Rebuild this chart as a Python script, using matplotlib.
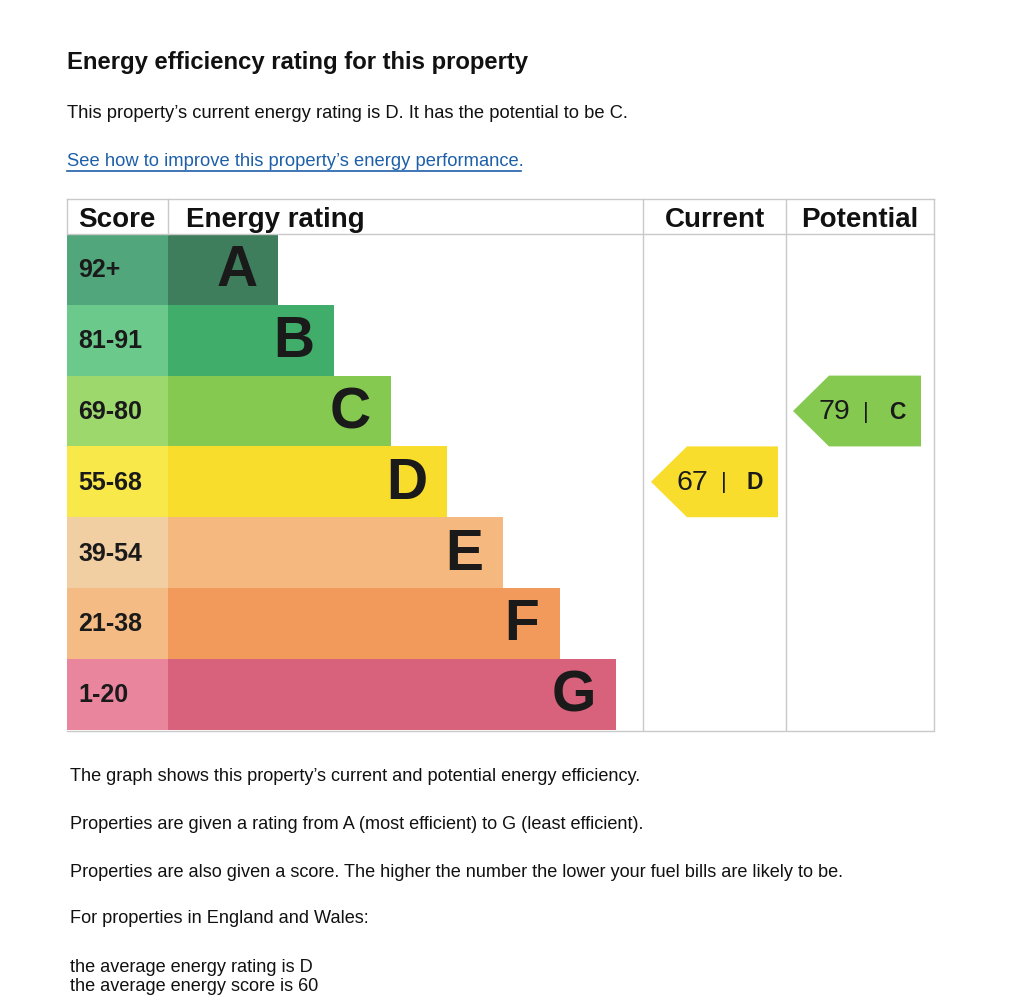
import matplotlib.pyplot as plt
from matplotlib.patches import Polygon

# EPC bands, best to worst
bands = ['A', 'B', 'C', 'D', 'E', 'F', 'G']
score_ranges = ['92+', '81-91', '69-80', '55-68', '39-54', '21-38', '1-20']
band_min = [92, 81, 69, 55, 39, 21, 1]
score_colors = ['#52a67c', '#6cc98c', '#9dd86c', '#f9e84a', '#f2cfa2', '#f4bc84', '#e9869e']
bar_colors = ['#3f7e5d', '#40ad6a', '#86c951', '#f8dd2c', '#f5b97f', '#f19a5c', '#d8617b']

current_score = 67
potential_score = 79

title = 'Energy efficiency rating for this property'
intro = "This property\u2019s current energy rating is D. It has the potential to be C."
link = "See how to improve this property\u2019s energy performance."
notes = [
    "The graph shows this property\u2019s current and potential energy efficiency.",
    "Properties are given a rating from A (most efficient) to G (least efficient).",
    "Properties are also given a score. The higher the number the lower your fuel bills are likely to be.",
    "For properties in England and Wales:",
]
averages = ["the average energy rating is D", "the average energy score is 60"]

plt.rcParams['font.family'] = ['Liberation Sans', 'DejaVu Sans']

fig = plt.figure(figsize=(10.24, 9.97), dpi=100)
ax = fig.add_axes([0, 0, 1, 1])
ax.set_xlim(0, 1024)
ax.set_ylim(997, 0)
ax.axis('off')

# table layout in pixels
left, score_w = 67, 101
top, head_h, row_h = 199, 35, 70.8
col_cur, col_pot, right = 643, 786, 934
bar_step = 56.3
first_bar = 110
grid = '#c9c9c9'

rows_top = top + head_h
centers = [rows_top + row_h * (i + 0.5) for i in range(len(bands))]
bottom = rows_top + row_h * len(bands)

# score cells and rating bars
ax.barh(centers, score_w, height=row_h, left=left, color=score_colors, edgecolor='none')
widths = [first_bar + bar_step * i for i in range(len(bands))]
ax.barh(centers, widths, height=row_h, left=left + score_w, color=bar_colors, edgecolor='none')

for i, b in enumerate(bands):
    ax.text(left + 11, centers[i] + 1, score_ranges[i], fontsize=18, fontweight='bold',
            ha='left', va='center', color='#1a1a1a')
    ax.text(left + score_w + widths[i] - 20, centers[i] + 2, b, fontsize=41, fontweight='bold',
            ha='right', va='center', color='#1a1a1a')

# grid lines
for x in [left, left + score_w]:
    ax.plot([x, x], [top, rows_top], color=grid, lw=1)
for x in [col_cur, col_pot, right]:
    ax.plot([x, x], [top, bottom], color=grid, lw=1)
ax.plot([left, right], [top, top], color=grid, lw=1)
ax.plot([left, right], [rows_top, rows_top], color=grid, lw=1)
ax.plot([left, right], [bottom + 1, bottom + 1], color=grid, lw=1)

head_size = 20
head_y = top + 21
ax.text(left + 11, head_y, 'Score', fontsize=head_size, fontweight='bold', va='center', color='#111')
ax.text(left + score_w + 18, head_y, 'Energy rating', fontsize=head_size, fontweight='bold',
        va='center', color='#111')
ax.text((col_cur + col_pot) / 2, head_y, 'Current', fontsize=head_size, fontweight='bold',
        ha='center', va='center', color='#111')
ax.text((col_pot + right) / 2, head_y, 'Potential', fontsize=head_size, fontweight='bold',
        ha='center', va='center', color='#111')


def band_index(score):
    for i, m in enumerate(band_min):
        if score >= m:
            return i
    return len(bands) - 1


def draw_arrow(score, tip_x, body_right):
    i = band_index(score)
    y0, y1 = rows_top + row_h * i, rows_top + row_h * (i + 1)
    yc = (y0 + y1) / 2
    body_left = tip_x + 36
    ax.add_patch(Polygon([(tip_x, yc), (body_left, y0), (body_right, y0),
                          (body_right, y1), (body_left, y1)],
                         closed=True, color=bar_colors[i], lw=0))
    ax.text(tip_x + 26, yc + 1, str(score), fontsize=20.5, ha='left', va='center', color='#1a1a1a')
    ax.text(tip_x + 73, yc + 1, '|', fontsize=16, ha='center', va='center', color='#1a1a1a')
    ax.text(tip_x + 96, yc + 1, bands[i], fontsize=16.5, fontweight='bold', ha='left',
            va='center', color='#1a1a1a')


draw_arrow(current_score, 651, 778)
draw_arrow(potential_score, 793, 921)

# text above and below
ax.text(67, 63, title, fontsize=17.2, fontweight='bold', va='center', color='#111')
ax.text(67, 114, intro, fontsize=13.2, va='center', color='#111')
ax.text(67, 162, link, fontsize=13.2, va='center', color='#1d5fa8')
ax.plot([67, 521], [171, 171], color='#1d5fa8', lw=1.2)

for y, line in zip([776, 824, 872, 918], notes):
    ax.text(70, y, line, fontsize=13.1, va='center', color='#111')
for y, line in zip([967, 986], averages):
    ax.text(70, y, line, fontsize=13.1, va='center', color='#111')

fig.savefig('out.png', dpi=100, facecolor='white')
